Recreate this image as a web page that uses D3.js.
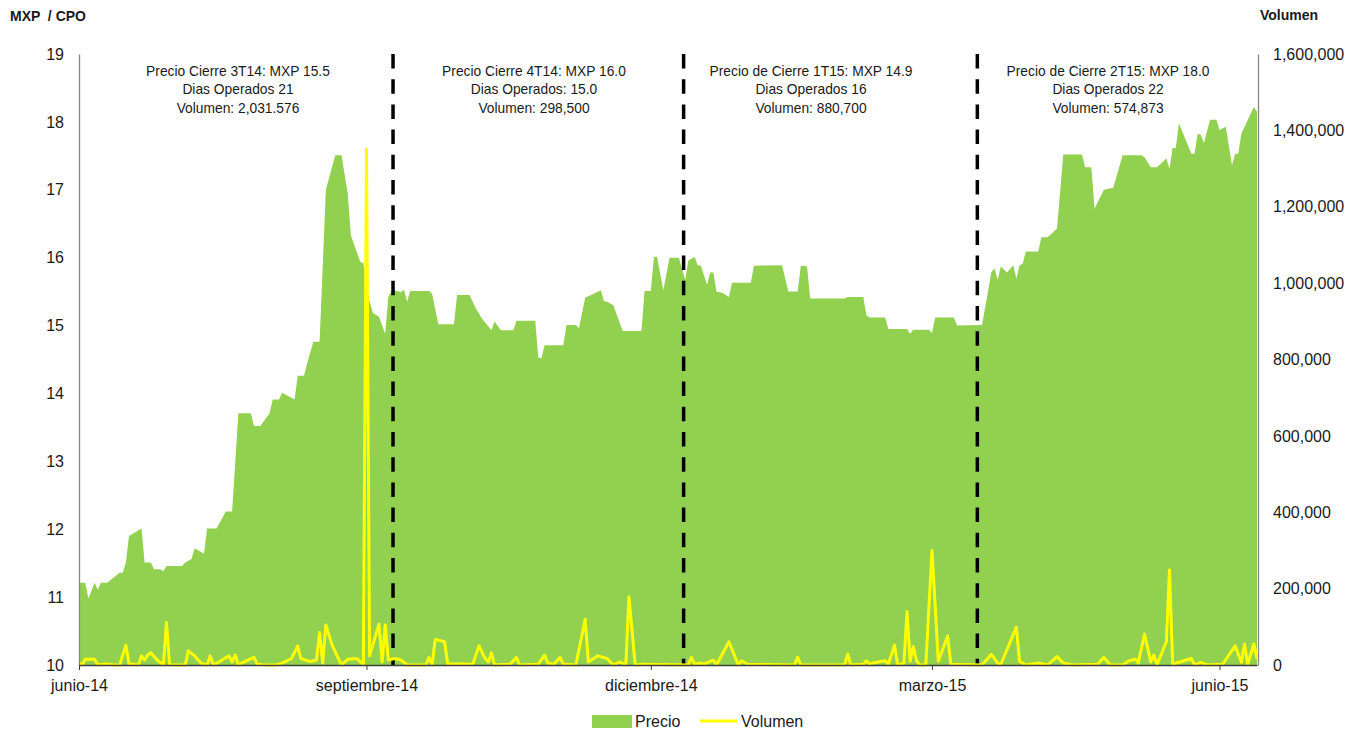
<!DOCTYPE html>
<html lang="es">
<head>
<meta charset="utf-8">
<script src="https://cdn.jsdelivr.net/npm/d3@7"></script>
<style>
  html, body { margin: 0; padding: 0; background: #fff; }
  svg { display: block; font-family: "Liberation Sans", Arial, sans-serif; }
</style>
</head>
<body>
<svg id="chart" width="1364" height="733"></svg>
<script>
// Daily closing price (MXP per CPO)
const priceSeries = [
  ["2014-06-01",11.21],["2014-06-03",11.21],["2014-06-04",10.98],["2014-06-06",11.21],["2014-06-07",11.11],
  ["2014-06-08",11.21],["2014-06-10",11.21],["2014-06-14",11.36],["2014-06-15",11.36],["2014-06-16",11.51],
  ["2014-06-17",11.90],["2014-06-21",12.01],["2014-06-22",11.51],["2014-06-24",11.51],["2014-06-25",11.41],
  ["2014-06-27",11.41],["2014-06-28",11.38],["2014-06-29",11.46],["2014-07-04",11.46],["2014-07-05",11.51],
  ["2014-07-07",11.56],["2014-07-08",11.72],["2014-07-11",11.64],["2014-07-12",12.01],["2014-07-15",12.01],
  ["2014-07-18",12.26],["2014-07-20",12.26],["2014-07-22",13.71],["2014-07-26",13.71],["2014-07-27",13.52],
  ["2014-07-29",13.52],["2014-08-01",13.71],["2014-08-02",13.91],["2014-08-04",13.91],["2014-08-05",14.01],
  ["2014-08-09",13.91],["2014-08-10",14.26],["2014-08-12",14.26],["2014-08-13",14.44],["2014-08-15",14.76],
  ["2014-08-17",14.76],["2014-08-19",17.00],["2014-08-22",17.51],["2014-08-24",17.51],["2014-08-26",16.95],
  ["2014-08-27",16.33],["2014-08-30",15.94],["2014-08-31",15.92],["2014-09-01",15.52],["2014-09-03",15.19],
  ["2014-09-05",15.13],["2014-09-07",14.88],["2014-09-08",15.42],["2014-09-09",15.51],["2014-09-11",15.51],
  ["2014-09-12",15.49],["2014-09-13",15.53],["2014-09-14",15.35],["2014-09-15",15.51],["2014-09-21",15.51],
  ["2014-09-22",15.47],["2014-09-24",15.02],["2014-09-29",15.02],["2014-09-30",15.45],["2014-10-04",15.45],
  ["2014-10-06",15.25],["2014-10-08",15.10],["2014-10-11",14.93],["2014-10-12",15.06],["2014-10-14",14.93],
  ["2014-10-18",14.93],["2014-10-19",15.07],["2014-10-25",15.07],["2014-10-26",14.53],["2014-10-27",14.52],
  ["2014-10-28",14.71],["2014-11-03",14.71],["2014-11-04",15.01],["2014-11-07",15.01],["2014-11-08",14.96],
  ["2014-11-10",15.41],["2014-11-11",15.43],["2014-11-15",15.52],["2014-11-16",15.36],["2014-11-17",15.35],
  ["2014-11-19",15.30],["2014-11-22",14.92],["2014-11-28",14.92],["2014-11-29",15.51],["2014-12-01",15.51],
  ["2014-12-02",16.01],["2014-12-03",16.01],["2014-12-05",15.52],["2014-12-07",16.00],["2014-12-10",16.00],
  ["2014-12-12",15.67],["2014-12-13",15.96],["2014-12-15",16.01],["2014-12-16",15.89],["2014-12-17",15.88],
  ["2014-12-19",15.60],["2014-12-20",15.78],["2014-12-21",15.78],["2014-12-22",15.50],["2014-12-24",15.48],
  ["2014-12-26",15.42],["2014-12-27",15.63],["2015-01-02",15.63],["2015-01-03",15.88],["2015-01-12",15.89],
  ["2015-01-14",15.50],["2015-01-17",15.50],["2015-01-18",15.88],["2015-01-20",15.87],["2015-01-21",15.40],
  ["2015-02-01",15.40],["2015-02-02",15.42],["2015-02-07",15.42],["2015-02-08",15.15],["2015-02-09",15.12],
  ["2015-02-14",15.12],["2015-02-15",14.95],["2015-02-21",14.95],["2015-02-22",14.88],["2015-02-23",14.94],
  ["2015-02-28",14.94],["2015-03-01",14.89],["2015-03-02",15.12],["2015-03-08",15.12],["2015-03-09",15.00],
  ["2015-03-17",15.01],["2015-03-20",15.79],["2015-03-21",15.84],["2015-03-22",15.67],["2015-03-23",15.87],
  ["2015-03-25",15.78],["2015-03-27",15.89],["2015-03-28",15.69],["2015-03-29",15.89],["2015-03-30",15.91],
  ["2015-03-31",16.09],["2015-04-04",16.09],["2015-04-05",16.30],["2015-04-07",16.30],["2015-04-10",16.43],
  ["2015-04-12",17.52],["2015-04-18",17.52],["2015-04-19",17.33],["2015-04-21",17.33],["2015-04-22",16.72],
  ["2015-04-25",17.00],["2015-04-28",17.03],["2015-05-01",17.51],["2015-05-07",17.51],["2015-05-08",17.48],
  ["2015-05-10",17.33],["2015-05-12",17.33],["2015-05-15",17.46],["2015-05-16",17.31],["2015-05-17",17.62],
  ["2015-05-18",17.61],["2015-05-19",17.98],["2015-05-23",17.53],["2015-05-24",17.53],["2015-05-25",17.82],
  ["2015-05-26",17.81],["2015-05-27",17.69],["2015-05-29",18.03],["2015-05-31",18.03],["2015-06-01",17.88],
  ["2015-06-03",17.93],["2015-06-05",17.36],["2015-06-06",17.53],["2015-06-07",17.53],["2015-06-08",17.83],
  ["2015-06-12",18.22],["2015-06-13",18.15]
];

// Daily traded volume (CPOs)
const volumeSeries = [
  ["2014-06-01",6000],["2014-06-02",0],["2014-06-03",15000],["2014-06-06",15000],["2014-06-07",0],
  ["2014-06-10",3000],["2014-06-12",0],["2014-06-14",0],["2014-06-16",52000],["2014-06-17",3000],
  ["2014-06-20",0],["2014-06-21",24000],["2014-06-22",13000],["2014-06-23",26000],["2014-06-24",32000],
  ["2014-06-26",13000],["2014-06-28",0],["2014-06-29",111000],["2014-06-30",0],["2014-07-05",0],
  ["2014-07-06",37000],["2014-07-08",24000],["2014-07-10",5000],["2014-07-12",0],["2014-07-13",24000],
  ["2014-07-14",0],["2014-07-16",9000],["2014-07-19",24000],["2014-07-20",8000],["2014-07-21",26000],
  ["2014-07-22",0],["2014-07-24",9000],["2014-07-27",20000],["2014-07-28",3000],["2014-07-30",0],
  ["2014-08-03",0],["2014-08-05",5000],["2014-08-08",17000],["2014-08-10",50000],["2014-08-11",17000],
  ["2014-08-14",9000],["2014-08-16",13000],["2014-08-17",85000],["2014-08-18",5000],["2014-08-19",105000],
  ["2014-08-21",52000],["2014-08-24",0],["2014-08-26",15000],["2014-08-29",17000],["2014-08-31",0],
  ["2014-09-01",1350000],["2014-09-02",24000],["2014-09-05",107000],["2014-09-06",8000],["2014-09-07",105000],
  ["2014-09-08",13000],["2014-09-10",17000],["2014-09-12",13000],["2014-09-14",0],["2014-09-20",0],
  ["2014-09-21",20000],["2014-09-22",0],["2014-09-23",67000],["2014-09-26",61000],["2014-09-27",3000],
  ["2014-10-05",2000],["2014-10-07",50000],["2014-10-09",17000],["2014-10-10",8000],["2014-10-11",32000],
  ["2014-10-12",0],["2014-10-17",2000],["2014-10-19",20000],["2014-10-20",0],["2014-10-26",2000],
  ["2014-10-28",26000],["2014-10-29",5000],["2014-10-31",2000],["2014-11-02",20000],["2014-11-03",2000],
  ["2014-11-07",0],["2014-11-10",120000],["2014-11-11",8000],["2014-11-14",24000],["2014-11-17",17000],
  ["2014-11-19",0],["2014-11-21",8000],["2014-11-23",0],["2014-11-24",179000],["2014-11-26",0],
  ["2014-11-29",2000],["2014-12-13",0],["2014-12-14",20000],["2014-12-15",2000],["2014-12-17",5000],
  ["2014-12-18",2000],["2014-12-21",13000],["2014-12-22",0],["2014-12-26",61000],["2014-12-29",0],
  ["2014-12-30",11000],["2015-01-01",2000],["2015-01-16",0],["2015-01-17",20000],["2015-01-18",0],
  ["2015-02-01",0],["2015-02-02",29000],["2015-02-03",0],["2015-02-07",2000],["2015-02-08",11000],
  ["2015-02-09",2000],["2015-02-10",5000],["2015-02-14",11000],["2015-02-15",2000],["2015-02-17",52000],
  ["2015-02-18",0],["2015-02-20",5000],["2015-02-21",140000],["2015-02-22",10000],["2015-02-23",48000],
  ["2015-02-24",12000],["2015-02-25",0],["2015-02-27",0],["2015-03-01",300000],["2015-03-03",10000],
  ["2015-03-06",76000],["2015-03-07",2000],["2015-03-17",0],["2015-03-20",28000],["2015-03-22",5000],
  ["2015-03-23",2000],["2015-03-28",99000],["2015-03-29",10000],["2015-03-31",0],["2015-04-04",5000],
  ["2015-04-07",0],["2015-04-10",22000],["2015-04-12",5000],["2015-04-15",0],["2015-04-23",2000],
  ["2015-04-25",20000],["2015-04-27",0],["2015-05-01",0],["2015-05-03",11000],["2015-05-05",15000],
  ["2015-05-06",5000],["2015-05-08",81000],["2015-05-10",8000],["2015-05-11",26000],["2015-05-12",0],
  ["2015-05-15",61000],["2015-05-16",249000],["2015-05-17",2000],["2015-05-23",17000],["2015-05-24",0],
  ["2015-05-26",7000],["2015-05-28",0],["2015-06-02",2000],["2015-06-06",50000],["2015-06-08",7000],
  ["2015-06-09",55000],["2015-06-10",2000],["2015-06-12",55000],["2015-06-13",16000]
];

// Axis ticks and labels
const xTickDates  = ["2014-06-01","2014-09-01","2014-12-01","2015-03-01","2015-06-01"];
const xTickLabels = ["junio-14","septiembre-14","diciembre-14","marzo-15","junio-15"];
const priceTicks  = [10,11,12,13,14,15,16,17,18,19];
const volumeTicks = [0,200000,400000,600000,800000,1000000,1200000,1400000,1600000];

// Quarter separators and quarter summaries
const quarterBreaks = ["2014-09-09T12:00","2014-12-11T12:00","2015-03-15T12:00"];
const quarterNotes = [
  ["Precio Cierre 3T14: MXP 15.5", "Dias Operados 21", "Volumen: 2,031.576"],
  ["Precio Cierre 4T14: MXP 16.0", "Dias Operados: 15.0", "Volumen: 298,500"],
  ["Precio de Cierre 1T15: MXP 14.9", "Dias Operados 16", "Volumen: 880,700"],
  ["Precio de Cierre 2T15: MXP 18.0", "Dias Operados 22", "Volumen: 574,873"]
];
const legendLabels = ["Precio", "Volumen"];

// ---- layout ----
const plot = { left: 79, right: 1257, top: 54, bottom: 665 };
const noteCenters = [238, 534, 811, 1108];
const GREEN = "#92D050", YELLOW = "#FFFF00", TEXT = "#1a1a1a";

const parse = d3.timeParse("%Y-%m-%d");
const parseTime = d3.timeParse("%Y-%m-%dT%H:%M");
const price = priceSeries.map(([d, v]) => ({ date: parse(d), value: v }));
const volume = volumeSeries.map(([d, v]) => ({ date: parse(d), value: v }));

const x = d3.scaleTime()
  .domain([parse("2014-06-01"), parse("2015-06-13")])
  .range([plot.left, plot.right]);
const yPrice = d3.scaleLinear().domain([10, 19]).range([plot.bottom, plot.top]);
const yVol = d3.scaleLinear().domain([0, 1600000]).range([plot.bottom, plot.top]);

const svg = d3.select("#chart");

// price area
svg.append("path")
  .datum(price)
  .attr("fill", GREEN)
  .attr("d", d3.area()
    .x(d => x(d.date))
    .y0(yPrice(10))
    .y1(d => yPrice(d.value)));

// quarter separators
svg.append("g").selectAll("line")
  .data(quarterBreaks.map(parseTime))
  .join("line")
  .attr("x1", d => x(d)).attr("x2", d => x(d))
  .attr("y1", plot.top).attr("y2", plot.bottom)
  .attr("stroke", "#000")
  .attr("stroke-width", 3.5)
  .attr("stroke-dasharray", "14.5,10.7");

// volume line
svg.append("path")
  .datum(volume)
  .attr("fill", "none")
  .attr("stroke", YELLOW)
  .attr("stroke-width", 3)
  .attr("stroke-linejoin", "round")
  .attr("d", d3.line().x(d => x(d.date)).y(d => yVol(d.value)));

// left axis
const gLeft = svg.append("g")
  .attr("transform", `translate(${plot.left},0)`)
  .call(d3.axisLeft(yPrice).tickValues(priceTicks).tickSize(0).tickSizeOuter(0).tickPadding(15));
gLeft.select(".domain").attr("stroke", "#868686").attr("stroke-width", 1.3);
gLeft.selectAll("text").attr("font-size", 16).attr("fill", TEXT).attr("font-family", "Liberation Sans, Arial, sans-serif");

// right axis
const gRight = svg.append("g")
  .attr("transform", `translate(${plot.right + 1},0)`)
  .call(d3.axisRight(yVol).tickValues(volumeTicks).tickFormat(d3.format(",")).tickSize(0).tickSizeOuter(0).tickPadding(15));
gRight.select(".domain").attr("stroke", "#868686").attr("stroke-width", 1.3);
gRight.selectAll("text").attr("font-size", 16).attr("fill", TEXT).attr("font-family", "Liberation Sans, Arial, sans-serif");

// bottom axis
const gBottom = svg.append("g")
  .attr("transform", `translate(0,${plot.bottom})`)
  .call(d3.axisBottom(x)
    .tickValues(xTickDates.map(parse))
    .tickFormat((d, i) => xTickLabels[i])
    .tickSize(5).tickSizeOuter(0).tickPadding(10));
gBottom.select(".domain").attr("stroke", "#404040").attr("stroke-width", 1.3);
gBottom.selectAll(".tick line").attr("stroke", "#404040");
gBottom.selectAll("text").attr("font-size", 16).attr("fill", TEXT).attr("font-family", "Liberation Sans, Arial, sans-serif");

// axis titles
svg.append("text")
  .attr("x", 10).attr("y", 21)
  .attr("font-size", 14).attr("font-weight", "bold").attr("fill", TEXT)
  .style("white-space", "pre")
  .text("MXP  / CPO");
svg.append("text")
  .attr("x", 1260).attr("y", 20)
  .attr("font-size", 14).attr("font-weight", "bold").attr("fill", TEXT)
  .text("Volumen");

// quarter summaries
quarterNotes.forEach((lines, i) => {
  const g = svg.append("g")
    .attr("transform", `translate(${noteCenters[i]},0) scale(0.92,1)`);
  g.selectAll("text")
    .data(lines)
    .join("text")
    .attr("x", 0)
    .attr("y", (d, j) => 76 + j * 18.5)
    .attr("text-anchor", "middle")
    .attr("font-size", 15)
    .attr("fill", TEXT)
    .text(d => d);
});

// legend
const leg = svg.append("g");
leg.append("rect")
  .attr("x", 592).attr("y", 715).attr("width", 40).attr("height", 13)
  .attr("fill", GREEN);
leg.append("text")
  .attr("x", 635).attr("y", 727)
  .attr("font-size", 16).attr("fill", TEXT)
  .text(legendLabels[0]);
leg.append("line")
  .attr("x1", 700).attr("x2", 737).attr("y1", 721).attr("y2", 721)
  .attr("stroke", YELLOW).attr("stroke-width", 3);
leg.append("text")
  .attr("x", 741).attr("y", 727)
  .attr("font-size", 16).attr("fill", TEXT)
  .text(legendLabels[1]);
</script>
</body>
</html>
